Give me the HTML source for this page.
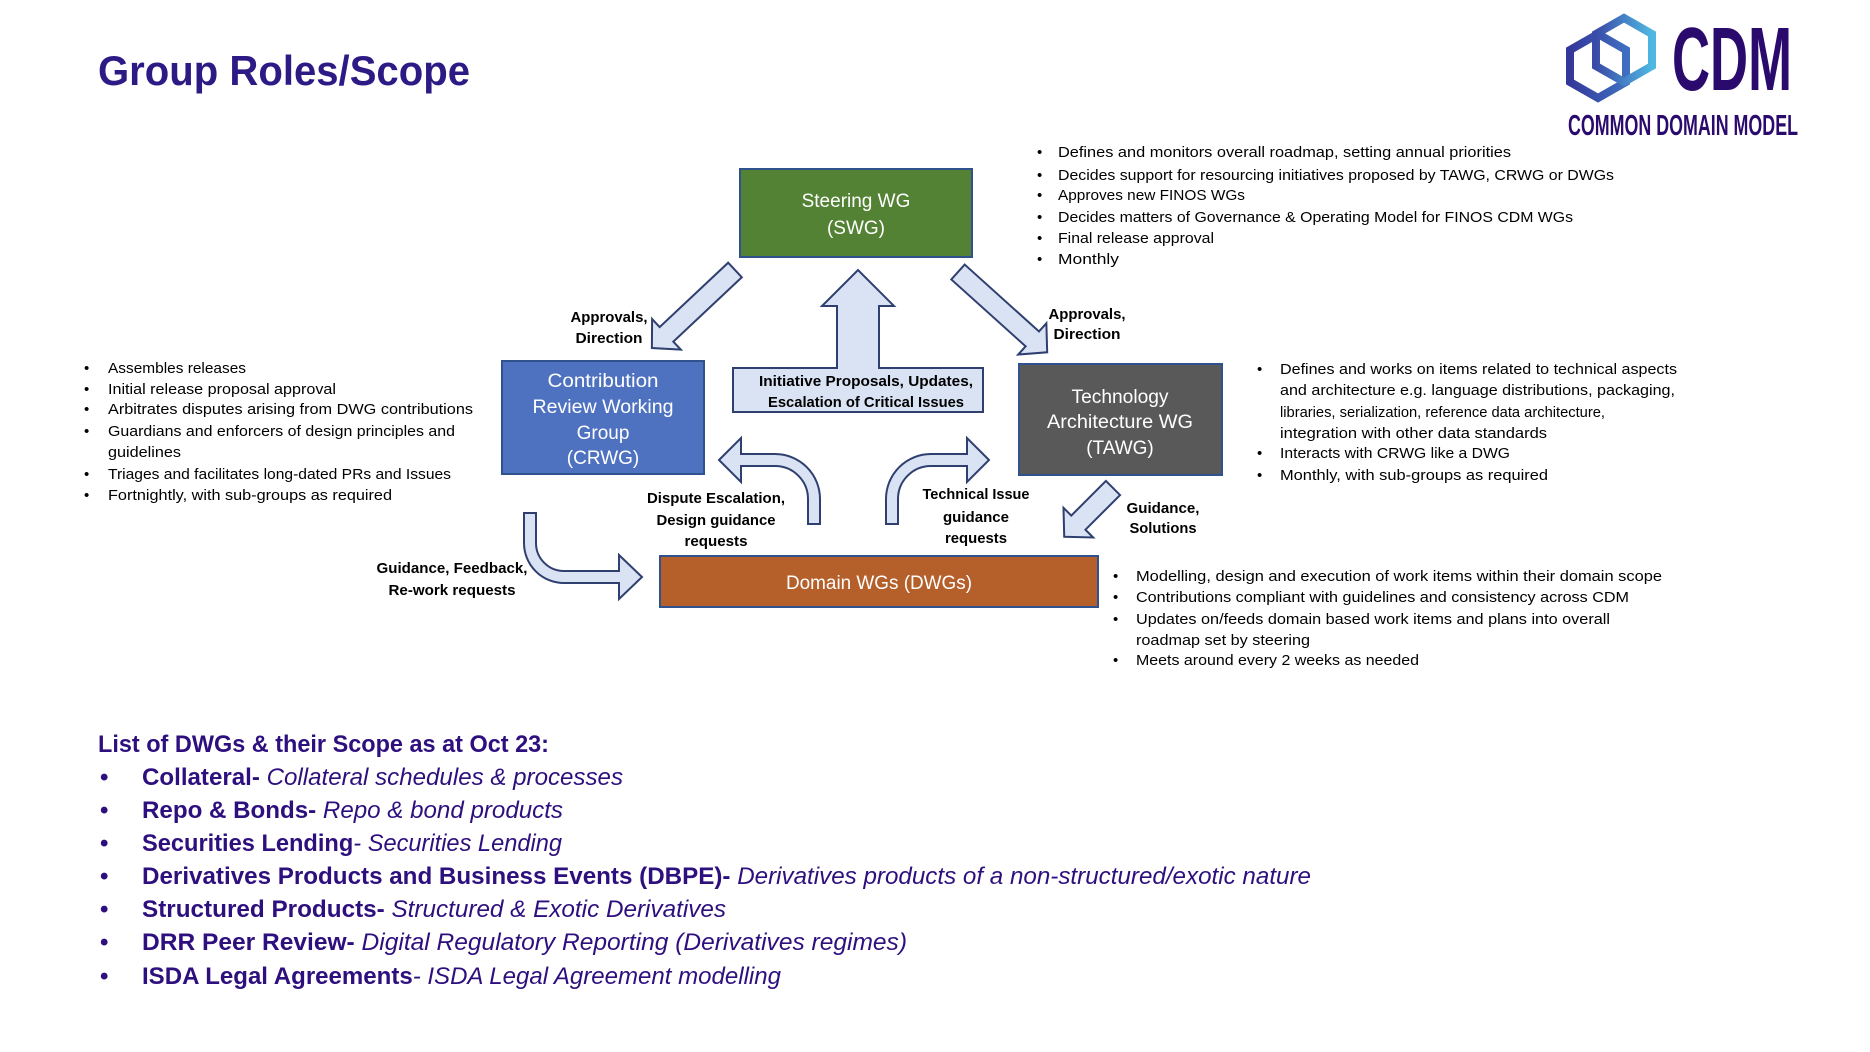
<!DOCTYPE html>
<html><head><meta charset="utf-8"><style>
html,body{margin:0;padding:0;background:#fff;}
svg{display:block;}
text{font-family:"Liberation Sans",sans-serif;}
</style></head><body>
<svg width="1870" height="1052" viewBox="0 0 1870 1052" xmlns="http://www.w3.org/2000/svg">
<defs>
<linearGradient id="g1" x1="0" y1="0" x2="1" y2="0"><stop offset="0" stop-color="#33379a"/><stop offset="1" stop-color="#3f6fc0"/></linearGradient>
<linearGradient id="g2" x1="0" y1="0" x2="1" y2="0"><stop offset="0" stop-color="#3a4aa8"/><stop offset="1" stop-color="#4fb8e2"/></linearGradient>
</defs>
<!-- Title -->
<text x="98" y="85" font-size="42" font-weight="bold" fill="#2e1a85" textLength="372" lengthAdjust="spacingAndGlyphs">Group Roles/Scope</text>
<!-- Logo -->
<polygon points="1598,34 1626,50 1626,82 1598,98 1570,82 1570,50" fill="none" stroke="url(#g1)" stroke-width="8"/>
<polygon points="1624,18 1652,34 1652,66 1624,82 1596,66 1596,34" fill="none" stroke="url(#g2)" stroke-width="8"/>
<text x="1672" y="90" font-size="90" font-weight="bold" fill="#2b0a6e" textLength="120" lengthAdjust="spacingAndGlyphs">CDM</text>
<text x="1568" y="135" font-size="29" font-weight="bold" fill="#2b0a6e" textLength="230" lengthAdjust="spacingAndGlyphs">COMMON DOMAIN MODEL</text>

<!-- Boxes -->
<rect x="740" y="169" width="232" height="88" fill="#548235" stroke="#2f528f" stroke-width="2"/>
<text x="856" y="207" font-size="19" fill="#fff" text-anchor="middle">Steering WG</text>
<text x="856" y="234" font-size="19" fill="#fff" text-anchor="middle">(SWG)</text>

<rect x="502" y="361" width="202" height="113" fill="#4f72c0" stroke="#2f528f" stroke-width="2"/>
<text x="603" y="387" font-size="19" fill="#fff" text-anchor="middle" textLength="111" lengthAdjust="spacingAndGlyphs">Contribution</text>
<text x="603" y="413" font-size="19" fill="#fff" text-anchor="middle" textLength="141" lengthAdjust="spacingAndGlyphs">Review Working</text>
<text x="603" y="439" font-size="19" fill="#fff" text-anchor="middle">Group</text>
<text x="603" y="464" font-size="19" fill="#fff" text-anchor="middle">(CRWG)</text>

<rect x="1019" y="364" width="203" height="111" fill="#595959" stroke="#2f528f" stroke-width="2"/>
<text x="1120" y="403" font-size="19" fill="#fff" text-anchor="middle" textLength="97" lengthAdjust="spacingAndGlyphs">Technology</text>
<text x="1120" y="428" font-size="19" fill="#fff" text-anchor="middle" textLength="146" lengthAdjust="spacingAndGlyphs">Architecture WG</text>
<text x="1120" y="454" font-size="19" fill="#fff" text-anchor="middle">(TAWG)</text>

<rect x="660" y="556" width="438" height="51" fill="#b55f2a" stroke="#2f528f" stroke-width="2"/>
<text x="879" y="589" font-size="19" fill="#fff" text-anchor="middle" textLength="186" lengthAdjust="spacingAndGlyphs">Domain WGs (DWGs)</text>

<!-- Arrows -->
<g fill="#dae3f3" stroke="#2f3f6f" stroke-width="2" stroke-linejoin="miter">
<polygon transform="translate(735,270) rotate(136.8)" points="0,-10 94,-10 94,-21 114,0 94,21 94,10 0,10"/>
<polygon transform="translate(958,272) rotate(42)" points="0,-10 100,-10 100,-21 120,0 100,21 100,10 0,10"/>
<polygon transform="translate(1113,488) rotate(135)" points="0,-10 49,-10 49,-21 69,0 49,21 49,10 0,10"/>
<polygon points="733,368 837,368 837,306 822,306 858,270 894,306 879,306 879,368 983,368 983,412 733,412"/>
<path d="M719,460 L741,438 L741,454 L775,454 A45,45 0 0 1 820,499 L820,524 L808,524 L808,499 A33,33 0 0 0 775,466 L741,466 L741,482 Z"/>
<path d="M989,460 L967,438 L967,454 L931,454 A45,45 0 0 0 886,499 L886,524 L898,524 L898,499 A33,33 0 0 1 931,466 L967,466 L967,482 Z"/>
<path d="M524,513 L536,513 L536,543 A28,28 0 0 0 564,571 L619,571 L619,555 L642,577 L619,599 L619,583 L564,583 A40,40 0 0 1 524,543 Z"/>
</g>

<!-- Arrow labels -->
<g font-size="15" font-weight="bold" fill="#000" text-anchor="middle">
<text x="866" y="386" textLength="214" lengthAdjust="spacingAndGlyphs">Initiative Proposals, Updates,</text>
<text x="866" y="407" textLength="196" lengthAdjust="spacingAndGlyphs">Escalation of Critical Issues</text>
<text x="609" y="322" textLength="77" lengthAdjust="spacingAndGlyphs">Approvals,</text>
<text x="609" y="343" textLength="67" lengthAdjust="spacingAndGlyphs">Direction</text>
<text x="1087" y="319" textLength="77" lengthAdjust="spacingAndGlyphs">Approvals,</text>
<text x="1087" y="339" textLength="67" lengthAdjust="spacingAndGlyphs">Direction</text>
<text x="716" y="503" textLength="138" lengthAdjust="spacingAndGlyphs">Dispute Escalation,</text>
<text x="716" y="525" textLength="119" lengthAdjust="spacingAndGlyphs">Design guidance</text>
<text x="716" y="546" textLength="63" lengthAdjust="spacingAndGlyphs">requests</text>
<text x="976" y="499" textLength="107" lengthAdjust="spacingAndGlyphs">Technical Issue</text>
<text x="976" y="522" textLength="66" lengthAdjust="spacingAndGlyphs">guidance</text>
<text x="976" y="543" textLength="62" lengthAdjust="spacingAndGlyphs">requests</text>
<text x="1163" y="513" textLength="73" lengthAdjust="spacingAndGlyphs">Guidance,</text>
<text x="1163" y="533" textLength="67" lengthAdjust="spacingAndGlyphs">Solutions</text>
<text x="452" y="573" textLength="151" lengthAdjust="spacingAndGlyphs">Guidance, Feedback,</text>
<text x="452" y="595" textLength="127" lengthAdjust="spacingAndGlyphs">Re-work requests</text>
</g>

<!-- Bullet lists -->
<g font-size="15" fill="#000">
<!-- SWG -->
<text x="1037" y="157">•</text><text x="1058" y="157" textLength="453" lengthAdjust="spacingAndGlyphs">Defines and monitors overall roadmap, setting annual priorities</text>
<text x="1037" y="180">•</text><text x="1058" y="180" textLength="556" lengthAdjust="spacingAndGlyphs">Decides support for resourcing initiatives proposed by TAWG, CRWG or DWGs</text>
<text x="1037" y="200">•</text><text x="1058" y="200" textLength="187" lengthAdjust="spacingAndGlyphs">Approves new FINOS WGs</text>
<text x="1037" y="222">•</text><text x="1058" y="222" textLength="515" lengthAdjust="spacingAndGlyphs">Decides matters of Governance &amp; Operating Model for FINOS CDM WGs</text>
<text x="1037" y="243">•</text><text x="1058" y="243" textLength="156" lengthAdjust="spacingAndGlyphs">Final release approval</text>
<text x="1037" y="264">•</text><text x="1058" y="264" textLength="61" lengthAdjust="spacingAndGlyphs">Monthly</text>
<!-- CRWG -->
<text x="84" y="373">•</text><text x="108" y="373" textLength="138" lengthAdjust="spacingAndGlyphs">Assembles releases</text>
<text x="84" y="394">•</text><text x="108" y="394" textLength="228" lengthAdjust="spacingAndGlyphs">Initial release proposal approval</text>
<text x="84" y="414">•</text><text x="108" y="414" textLength="365" lengthAdjust="spacingAndGlyphs">Arbitrates disputes arising from DWG contributions</text>
<text x="84" y="436">•</text><text x="108" y="436" textLength="347" lengthAdjust="spacingAndGlyphs">Guardians and enforcers of design principles and</text>
<text x="108" y="457" textLength="73" lengthAdjust="spacingAndGlyphs">guidelines</text>
<text x="84" y="479">•</text><text x="108" y="479" textLength="343" lengthAdjust="spacingAndGlyphs">Triages and facilitates long-dated PRs and Issues</text>
<text x="84" y="500">•</text><text x="108" y="500" textLength="284" lengthAdjust="spacingAndGlyphs">Fortnightly, with sub-groups as required</text>
<!-- TAWG -->
<text x="1257" y="374">•</text><text x="1280" y="374" textLength="397" lengthAdjust="spacingAndGlyphs">Defines and works on items related to technical aspects</text>
<text x="1280" y="395" textLength="395" lengthAdjust="spacingAndGlyphs">and architecture e.g. language distributions, packaging,</text>
<text x="1280" y="417" textLength="325" lengthAdjust="spacingAndGlyphs">libraries, serialization, reference data architecture,</text>
<text x="1280" y="438" textLength="267" lengthAdjust="spacingAndGlyphs">integration with other data standards</text>
<text x="1257" y="458">•</text><text x="1280" y="458" textLength="230" lengthAdjust="spacingAndGlyphs">Interacts with CRWG like a DWG</text>
<text x="1257" y="480">•</text><text x="1280" y="480" textLength="268" lengthAdjust="spacingAndGlyphs">Monthly, with sub-groups as required</text>
<!-- DWG -->
<text x="1113" y="581">•</text><text x="1136" y="581" textLength="526" lengthAdjust="spacingAndGlyphs">Modelling, design and execution of work items within their domain scope</text>
<text x="1113" y="602">•</text><text x="1136" y="602" textLength="493" lengthAdjust="spacingAndGlyphs">Contributions compliant with guidelines and consistency across CDM</text>
<text x="1113" y="624">•</text><text x="1136" y="624" textLength="474" lengthAdjust="spacingAndGlyphs">Updates on/feeds domain based work items and plans into overall</text>
<text x="1136" y="645" textLength="174" lengthAdjust="spacingAndGlyphs">roadmap set by steering</text>
<text x="1113" y="665">•</text><text x="1136" y="665" textLength="283" lengthAdjust="spacingAndGlyphs">Meets around every 2 weeks as needed</text>
</g>

<!-- Bottom list -->
<g font-size="24" fill="#2e0f7e">
<text x="98" y="752" font-weight="bold" textLength="451" lengthAdjust="spacingAndGlyphs">List of DWGs &amp; their Scope as at Oct 23:</text>
<text x="100" y="785" font-weight="bold">•</text>
<text x="142" y="785" textLength="481" lengthAdjust="spacingAndGlyphs"><tspan font-weight="bold">Collateral- </tspan><tspan font-style="italic">Collateral schedules &amp; processes</tspan></text>
<text x="100" y="818" font-weight="bold">•</text>
<text x="142" y="818" textLength="421" lengthAdjust="spacingAndGlyphs"><tspan font-weight="bold">Repo &amp; Bonds- </tspan><tspan font-style="italic">Repo &amp; bond products</tspan></text>
<text x="100" y="851" font-weight="bold">•</text>
<text x="142" y="851" textLength="420" lengthAdjust="spacingAndGlyphs"><tspan font-weight="bold">Securities Lending</tspan><tspan font-style="italic">- Securities Lending</tspan></text>
<text x="100" y="884" font-weight="bold">•</text>
<text x="142" y="884" textLength="1169" lengthAdjust="spacingAndGlyphs"><tspan font-weight="bold">Derivatives Products and Business Events (DBPE)- </tspan><tspan font-style="italic">Derivatives products of a non-structured/exotic nature</tspan></text>
<text x="100" y="917" font-weight="bold">•</text>
<text x="142" y="917" textLength="584" lengthAdjust="spacingAndGlyphs"><tspan font-weight="bold">Structured Products- </tspan><tspan font-style="italic">Structured &amp; Exotic Derivatives</tspan></text>
<text x="100" y="950" font-weight="bold">•</text>
<text x="142" y="950" textLength="765" lengthAdjust="spacingAndGlyphs"><tspan font-weight="bold">DRR Peer Review- </tspan><tspan font-style="italic">Digital Regulatory Reporting (Derivatives regimes)</tspan></text>
<text x="100" y="984" font-weight="bold">•</text>
<text x="142" y="984" textLength="639" lengthAdjust="spacingAndGlyphs"><tspan font-weight="bold">ISDA Legal Agreements</tspan><tspan font-style="italic">- ISDA Legal Agreement modelling</tspan></text>
</g>
</svg>
</body></html>
